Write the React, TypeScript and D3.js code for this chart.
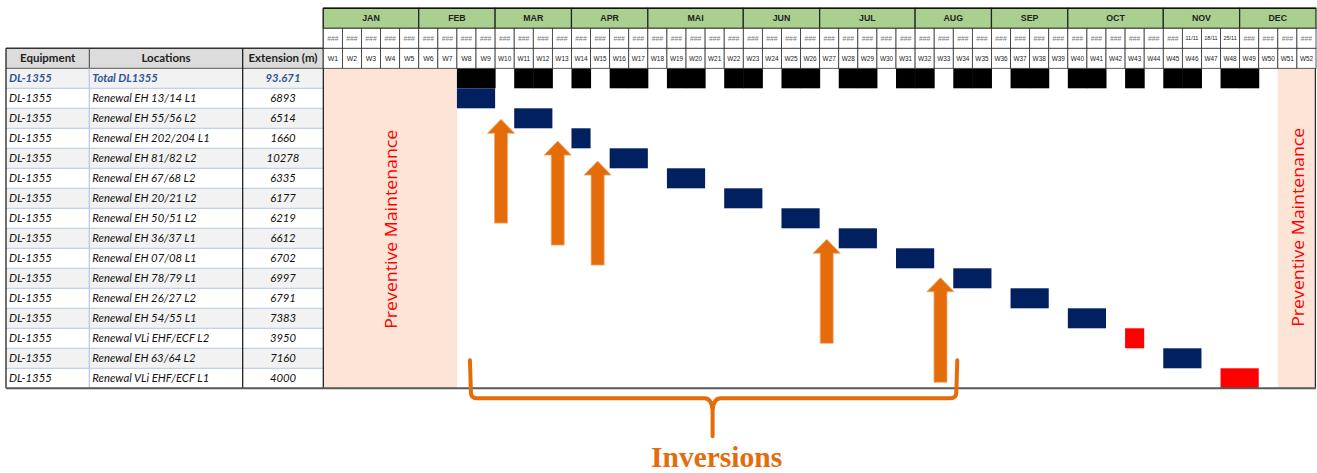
import React from "react";
import * as d3 from "d3";

const W = 1317;
const H = 473;

// ---------- data ----------
const months = ["JAN", "FEB", "MAR", "APR", "MAI", "JUN", "JUL", "AUG", "SEP", "OCT", "NOV", "DEC"];
const monthWeeks = [5, 4, 4, 4, 5, 4, 5, 4, 4, 5, 4, 4];
const weekNumbers = d3.range(1, 53);
const weekDateOverrides: Record<number, string> = { 46: "11/11", 47: "18/11", 48: "25/11" };

const tableHeaders = ["Equipment", "Locations", "Extension (m)"];
const equipment = [
  "DL-1355", "DL-1355", "DL-1355", "DL-1355", "DL-1355", "DL-1355", "DL-1355", "DL-1355",
  "DL-1355", "DL-1355", "DL-1355", "DL-1355", "DL-1355", "DL-1355", "DL-1355", "DL-1355",
];
const locations = [
  "Total DL1355",
  "Renewal EH 13/14 L1",
  "Renewal EH 55/56 L2",
  "Renewal EH 202/204 L1",
  "Renewal EH 81/82 L2",
  "Renewal EH 67/68 L2",
  "Renewal EH 20/21 L2",
  "Renewal EH 50/51 L2",
  "Renewal EH 36/37 L1",
  "Renewal EH 07/08 L1",
  "Renewal EH 78/79 L1",
  "Renewal EH 26/27 L2",
  "Renewal EH 54/55 L1",
  "Renewal VLi EHF/ECF L2",
  "Renewal EH 63/64 L2",
  "Renewal VLi EHF/ECF L1",
];
const extensions = [
  "93.671", "6893", "6514", "1660", "10278", "6335", "6177", "6219",
  "6612", "6702", "6997", "6791", "7383", "3950", "7160", "4000",
];
// task rows (row index 1..15): start week and duration in weeks
const taskStart = [0, 8, 11, 14, 16, 19, 22, 25, 28, 31, 34, 37, 40, 43, 45, 48];
const taskWeeks = [0, 2, 2, 1, 2, 2, 2, 2, 2, 2, 2, 2, 2, 1, 2, 2];
const taskKind = ["total", "eh", "eh", "eh", "eh", "eh", "eh", "eh", "eh", "eh", "eh", "eh", "eh", "vli", "eh", "vli"];

const maintenanceStart = [1, 51];
const maintenanceEnd = [7, 52];
const maintenanceLabel = "Preventive Maintenance";

// inversion arrows: x in weeks from grid start, tip/base in rows from first data row
const arrowX = [9.31, 12.28, 14.37, 26.37, 32.33];
const arrowTip = [2.55, 3.64, 4.64, 8.55, 10.47];
const arrowBase = [7.74, 8.84, 9.84, 13.75, 15.7];

const braceFrom = 7.68;
const braceTo = 33.21;
const braceTop = 14.6;
const braceLabel = "Inversions";

// ---------- styles ----------
const NAVY = "#002060";
const RED = "#FF0000";
const ORANGE = "#E46C0A";
const PINK = "#FCE4D6";
const GREEN = "#A9D08E";
const BLUE_TXT = "#2F5597";
const ROW_GRAY = "#F2F2F2";
const HEAD_GRAY = "#DCDCDC";
const SEP = "#B4C6E7";
const FONT = "Lato, 'Open Sans', sans-serif";
const TINY = "'Liberation Sans', Arial, sans-serif";

export default function App() {
  const x = d3.scaleLinear().domain([0, 52]).range([323.3, 1316]);
  const y = d3.scaleLinear().domain([0, 16]).range([68.3, 388.3]);
  const colEdges = [6, 89.3, 242.7, 323.3];
  const rows = d3.range(locations.length);
  const monthStart = d3.cumsum([0, ...monthWeeks.slice(0, -1)]);

  // total-row blocks = union of task weeks
  const busy = new Set<number>();
  rows.slice(1).forEach((r) => {
    for (let k = 0; k < taskWeeks[r]; k++) busy.add(taskStart[r] + k);
  });

  const arrowPath = (i: number) => {
    const cx = x(arrowX[i]);
    const ty = y(arrowTip[i]);
    const by = y(arrowBase[i]);
    const hw = 13.6, sw = 6.5, hh = 14;
    return `M${cx},${ty} L${cx + hw},${ty + hh} L${cx + sw},${ty + hh} L${cx + sw},${by} L${cx - sw},${by} L${cx - sw},${ty + hh} L${cx - hw},${ty + hh} Z`;
  };

  const bx0 = x(braceFrom), bx1 = x(braceTo), bcx = (bx0 + bx1) / 2 - 1;
  const bTop = y(braceTop), bY = y(16) + 10, bTip = bY + 38;
  const bracePath =
    `M${bx0},${bTop} L${bx0 + 1},${bY - 6} Q${bx0 + 1},${bY} ${bx0 + 7},${bY} L${bcx - 8},${bY} Q${bcx - 1},${bY} ${bcx},${bY + 12} L${bcx},${bTip}` +
    ` M${bcx},${bY + 12} Q${bcx + 1},${bY} ${bcx + 8},${bY} L${bx1 - 7},${bY} Q${bx1 - 1},${bY} ${bx1 - 1},${bY - 6} L${bx1},${bTop}`;

  return (
    <svg width={W} height={H} style={{ position: "absolute", left: 0, top: 0, background: "#fff" }}>
      {/* ---------- table ---------- */}
      <rect x={colEdges[0]} y={y(-1)} width={colEdges[3] - colEdges[0]} height={y(0) - y(-1)} fill={HEAD_GRAY} />
      {rows.map((r) => (
        <rect key={"rb" + r} x={colEdges[0]} y={y(r)} width={colEdges[3] - colEdges[0]} height={y(r + 1) - y(r)} fill={r % 2 === 0 ? ROW_GRAY : "#fff"} />
      ))}
      {rows.map((r) => (
        <line key={"rs" + r} x1={colEdges[0]} x2={colEdges[3]} y1={y(r + 1)} y2={y(r + 1)} stroke={SEP} strokeWidth={1} />
      ))}
      {tableHeaders.map((h, i) => (
        <text key={h} x={(colEdges[i] + colEdges[i + 1]) / 2} y={(y(-1) + y(0)) / 2} dy="0.35em" textAnchor="middle" fontFamily={FONT} fontWeight="bold" fontSize={11.5} fill="#222">
          {h}
        </text>
      ))}
      {rows.map((r) => {
        const total = r === 0;
        const common = { fontFamily: FONT, fontStyle: "italic", fontSize: 11.3, fill: total ? BLUE_TXT : "#111", fontWeight: total ? "bold" : "normal" } as const;
        const cy = (y(r) + y(r + 1)) / 2;
        return (
          <g key={"rt" + r}>
            <text x={colEdges[0] + 3} y={cy} dy="0.35em" {...common}>{equipment[r]}</text>
            <text x={colEdges[1] + 3} y={cy} dy="0.35em" {...common}>{locations[r]}</text>
            <text x={(colEdges[2] + colEdges[3]) / 2} y={cy} dy="0.35em" textAnchor="middle" {...common}>{extensions[r]}</text>
          </g>
        );
      })}
      <line x1={colEdges[0]} x2={colEdges[3]} y1={y(-1)} y2={y(-1)} stroke="#333" strokeWidth={1.5} />
      <line x1={colEdges[0]} x2={colEdges[3]} y1={y(0)} y2={y(0)} stroke="#555" strokeWidth={1} />
      <line x1={colEdges[0]} x2={colEdges[0]} y1={y(-1)} y2={y(16)} stroke="#111" strokeWidth={1.2} />
      <line x1={colEdges[1]} x2={colEdges[1]} y1={y(0)} y2={y(16)} stroke={SEP} strokeWidth={1.2} />
      <line x1={colEdges[1]} x2={colEdges[1]} y1={y(-1)} y2={y(0)} stroke="#444" strokeWidth={1} />
      <line x1={colEdges[2]} x2={colEdges[2]} y1={y(-1)} y2={y(16)} stroke="#111" strokeWidth={1.2} />

      {/* ---------- gantt area ---------- */}
      {maintenanceStart.map((s, i) => (
        <rect key={"pm" + i} x={x(s - 1)} y={y(0)} width={x(maintenanceEnd[i]) - x(s - 1)} height={y(16) - y(0)} fill={PINK} />
      ))}
      {Array.from(busy).map((wk) => (
        <rect key={"tb" + wk} x={x(wk - 1)} y={y(0)} width={x(wk) - x(wk - 1) + 0.5} height={y(1) - y(0)} fill="#000" />
      ))}
      {rows.slice(1).map((r) => (
        <rect key={"bar" + r} x={x(taskStart[r] - 1)} y={y(r)} width={x(taskStart[r] - 1 + taskWeeks[r]) - x(taskStart[r] - 1)} height={y(r + 1) - y(r)} fill={taskKind[r] === "vli" ? RED : NAVY} />
      ))}
      <text transform={`translate(${(x(0) + x(7)) / 2 + 1},${(y(0) + y(16)) / 2 + 1}) rotate(-90)`} textAnchor="middle" dy="0.35em" fontFamily="'Open Sans', sans-serif" fontSize={16.5} fill={RED} textLength={199} lengthAdjust="spacingAndGlyphs">
        {maintenanceLabel}
      </text>
      <text transform={`translate(${(x(50) + x(52)) / 2 + 1},${(y(0) + y(16)) / 2 - 1}) rotate(-90)`} textAnchor="middle" dy="0.35em" fontFamily="'Open Sans', sans-serif" fontSize={16.5} fill={RED} textLength={199} lengthAdjust="spacingAndGlyphs">
        {maintenanceLabel}
      </text>
      <line x1={x(0)} x2={x(0)} y1={y(-3)} y2={y(16)} stroke="#111" strokeWidth={1.2} />
      <line x1={x(52) - 0.6} x2={x(52) - 0.6} y1={y(-3)} y2={y(16)} stroke="#222" strokeWidth={1.2} />
      <line x1={colEdges[0]} x2={x(52)} y1={y(16)} y2={y(16)} stroke="#595959" strokeWidth={2} />

      {/* ---------- header: months / dates / weeks ---------- */}
      {months.map((m, i) => {
        const x0 = x(monthStart[i]);
        const x1 = x(monthStart[i] + monthWeeks[i]);
        return (
          <g key={m}>
            <rect x={x0} y={y(-3)} width={x1 - x0} height={y(-2) - y(-3)} fill={GREEN} stroke="#222" strokeWidth={1.2} />
            <text x={(x0 + x1) / 2} y={(y(-3) + y(-2)) / 2} dy="0.35em" textAnchor="middle" fontFamily={TINY} fontWeight="bold" fontSize={8.8} fill="#222">
              {m}
            </text>
          </g>
        );
      })}
      {weekNumbers.map((wk) => {
        const x0 = x(wk - 1);
        const x1 = x(wk);
        const cx = (x0 + x1) / 2;
        const date = weekDateOverrides[wk];
        return (
          <g key={"wk" + wk}>
            <rect x={x0} y={y(-2)} width={x1 - x0} height={y(-1) - y(-2)} fill="#fff" stroke="#333" strokeWidth={0.8} />
            <rect x={x0} y={y(-1)} width={x1 - x0} height={y(0) - y(-1)} fill="#fff" stroke="#333" strokeWidth={0.8} />
            <text x={cx} y={(y(-2) + y(-1)) / 2} dy="0.35em" textAnchor="middle" fontFamily={TINY} fontSize={date ? 5.5 : 6.8} fill={date ? "#222" : "#777"}>
              {date ?? "###"}
            </text>
            <text x={cx} y={(y(-1) + y(0)) / 2} dy="0.35em" textAnchor="middle" fontFamily={TINY} fontSize={wk >= 10 ? 6.4 : 6.9} fill="#222">
              {"W" + wk}
            </text>
          </g>
        );
      })}
      <line x1={x(0)} x2={x(52)} y1={y(-3)} y2={y(-3)} stroke="#111" strokeWidth={1.6} />

      {/* ---------- annotations ---------- */}
      {arrowX.map((_, i) => (
        <path key={"ar" + i} d={arrowPath(i)} fill={ORANGE} stroke="#F2A970" strokeWidth={0.8} strokeLinejoin="miter" />
      ))}
      <path d={bracePath} fill="none" stroke={ORANGE} strokeWidth={4} strokeLinecap="round" strokeLinejoin="round" />
      <text x={bcx + 4} y={467} textAnchor="middle" fontFamily="'Liberation Serif', 'Times New Roman', serif" fontWeight="bold" fontSize={29.5} fill={ORANGE}>
        {braceLabel}
      </text>
    </svg>
  );
}
